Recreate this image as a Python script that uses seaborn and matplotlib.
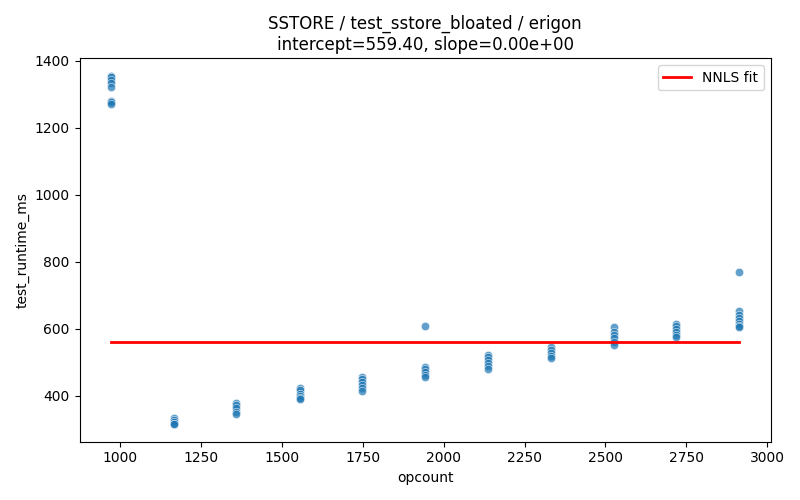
import matplotlib
matplotlib.use("Agg")
import matplotlib.pyplot as plt
import numpy as np
import pandas as pd
import seaborn as sns

# opcount levels and measured runtimes per level
opcounts = [971, 1165, 1359, 1554, 1748, 1942, 2136, 2331, 2525, 2719, 2914]
runtimes = [
    [1355, 1350, 1342, 1335, 1322, 1280, 1276, 1271],
    [332, 327, 320, 316, 314],
    [377, 371, 362, 352, 346],
    [422, 415, 406, 400, 394, 389],
    [456, 450, 441, 432, 421, 414],
    [607, 486, 479, 470, 462, 455],
    [521, 514, 506, 497, 487, 480],
    [546, 537, 527, 517, 511],
    [604, 591, 580, 571, 560, 550],
    [615, 608, 600, 590, 580, 575],
    [770, 651, 642, 632, 624, 615, 609, 605],
]
intercept = 559.40
slope = 0.0

rows = [(x, y) for x, ys in zip(opcounts, runtimes) for y in ys]
df = pd.DataFrame(rows, columns=["opcount", "test_runtime_ms"])

fig, ax = plt.subplots(figsize=(8, 5), dpi=100)
sns.scatterplot(data=df, x="opcount", y="test_runtime_ms", alpha=0.7, ax=ax)

xs = np.array([min(opcounts), max(opcounts)])
ax.plot(xs, intercept + slope * xs, color="red", linewidth=2, label="NNLS fit")

ax.set_title(f"SSTORE / test_sstore_bloated / erigon\nintercept={intercept:.2f}, slope={slope:.2e}")
ax.legend(loc="upper right")
plt.tight_layout()
plt.savefig("out.png", dpi=100)
plt.close()
